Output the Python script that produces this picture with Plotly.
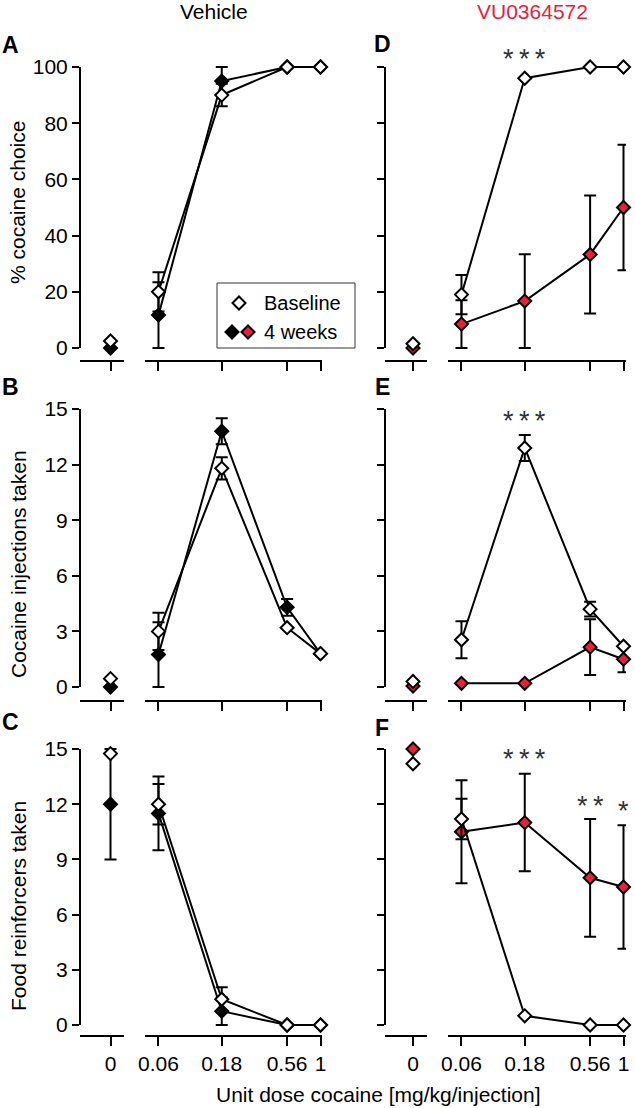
import math
import plotly.graph_objects as go

W, H = 635, 1108
RED = "#e8213b"
FONT = "Liberation Sans, Arial, Helvetica, sans-serif"

# ---------------- data ----------------
doses = [0.06, 0.18, 0.56, 1]
dose_labels = ["0.06", "0.18", "0.56", "1"]

# A: Vehicle, % cocaine choice
A_base_0, A_base_0_err = 2.5, 0
A_4w_0, A_4w_0_err = 0.0, 0
A_base = [20, 90, 100, 100]
A_base_err = [7, 4, 0, 0]
A_4w = [11.7, 95, 100, 100]
A_4w_err = [11.7, 5, 0, 0]

# B: Vehicle, cocaine injections taken
B_base_0, B_base_0_err = 0.45, 0
B_4w_0, B_4w_0_err = 0.0, 0
B_base = [3.0, 11.8, 3.2, 1.8]
B_base_err = [1.0, 0.6, 0, 0]
B_4w = [1.75, 13.8, 4.3, 1.8]
B_4w_err = [1.75, 0.7, 0.45, 0]

# C: Vehicle, food reinforcers taken
C_base_0, C_base_0_err = 14.75, 0
C_4w_0, C_4w_0_err = 12.0, 3.0
C_base = [12.0, 1.4, 0, 0]
C_base_err = [1.1, 0.65, 0, 0]
C_4w = [11.5, 0.75, 0, 0]
C_4w_err = [2.0, 0.75, 0, 0]

# D: VU0364572, % cocaine choice
D_base_0, D_base_0_err = 1.5, 0
D_4w_0, D_4w_0_err = 0.0, 0
D_base = [19, 96, 100, 100]
D_base_err = [7, 0, 0, 0]
D_4w = [8.5, 16.7, 33.3, 50]
D_4w_err = [8.5, 16.7, 21, 22.3]

# E: VU0364572, cocaine injections taken
E_base_0, E_base_0_err = 0.3, 0
E_4w_0, E_4w_0_err = 0.05, 0
E_base = [2.55, 12.9, 4.2, 2.2]
E_base_err = [1.0, 0.7, 0.4, 0]
E_4w = [0.2, 0.2, 2.15, 1.5]
E_4w_err = [0, 0, 1.5, 0.7]

# F: VU0364572, food reinforcers taken
F_base_0, F_base_0_err = 14.2, 0
F_4w_0, F_4w_0_err = 15.0, 0
F_base = [11.2, 0.5, 0, 0]
F_base_err = [1.1, 0, 0, 0]
F_4w = [10.5, 11.0, 8.0, 7.5]
F_4w_err = [2.8, 2.65, 3.2, 3.35]

# significance stars: (dose, y value, number of stars)
D_stars = [(0.18, 102.8, 3), (0.56, 106.4, 2), (1, 106.4, 1)]
E_stars = [(0.18, 14.35, 3)]
F_stars = [(0.18, 14.46, 3), (0.56, 11.9, 2), (1, 11.63, 1)]

row_titles = ["% cocaine choice", "Cocaine injections taken", "Food reinforcers taken"]
row_ticks = [[0, 20, 40, 60, 80, 100], [0, 3, 6, 9, 12, 15], [0, 3, 6, 9, 12, 15]]
row_vmax = [100, 15, 15]

panels = [
    dict(letter="A", row=0, col=0, fill="black",
         b0=A_base_0, b0e=A_base_0_err, w0=A_4w_0, w0e=A_4w_0_err,
         b=A_base, be=A_base_err, w=A_4w, we=A_4w_err, stars=[]),
    dict(letter="B", row=1, col=0, fill="black",
         b0=B_base_0, b0e=B_base_0_err, w0=B_4w_0, w0e=B_4w_0_err,
         b=B_base, be=B_base_err, w=B_4w, we=B_4w_err, stars=[]),
    dict(letter="C", row=2, col=0, fill="black",
         b0=C_base_0, b0e=C_base_0_err, w0=C_4w_0, w0e=C_4w_0_err,
         b=C_base, be=C_base_err, w=C_4w, we=C_4w_err, stars=[]),
    dict(letter="D", row=0, col=1, fill=RED,
         b0=D_base_0, b0e=D_base_0_err, w0=D_4w_0, w0e=D_4w_0_err,
         b=D_base, be=D_base_err, w=D_4w, we=D_4w_err, stars=D_stars),
    dict(letter="E", row=1, col=1, fill=RED,
         b0=E_base_0, b0e=E_base_0_err, w0=E_4w_0, w0e=E_4w_0_err,
         b=E_base, be=E_base_err, w=E_4w, we=E_4w_err, stars=E_stars),
    dict(letter="F", row=2, col=1, fill=RED,
         b0=F_base_0, b0e=F_base_0_err, w0=F_4w_0, w0e=F_4w_0_err,
         b=F_base, be=F_base_err, w=F_4w, we=F_4w_err, stars=F_stars),
]

# ---------------- layout geometry (pixels) ----------------
row_py0 = [348, 687, 1025]      # pixel of value 0
row_pymax = [67, 409, 749]      # pixel of max tick
row_axis = [360, 700, 1035]     # x-axis line
col_zero_dom = [(80, 124), (385, 427)]
col_zero_tick = [110.5, 413]
col_main_dom = [(145, 322), (448, 626)]
col_one_px = [320.5, 623.5]
PX_PER_DECADE = 132.6
letter_pos = {"A": (10, 45), "B": (10, 387), "C": (10, 722),
              "D": (383, 44), "E": (383, 387), "F": (382, 728)}
ytitle_py = [203, 564, 906]


def fx(px):
    return px / W


def fy(py):
    return 1 - py / H


def name(prefix, i):
    return prefix if i == 1 else f"{prefix}{i}"


def errs(a):
    return [e if e else None for e in a]


fig = go.Figure()
layout = dict(width=W, height=H, margin=dict(l=0, r=0, t=0, b=0, pad=0, autoexpand=False),
              paper_bgcolor="white", plot_bgcolor="rgba(0,0,0,0)", showlegend=False,
              font=dict(family=FONT, size=21, color="black"))
shapes = []
annotations = []

for p, P in enumerate(panels):
    r, c = P["row"], P["col"]
    yid, xz, xm = p + 1, 2 * p + 1, 2 * p + 2
    ya, xza, xma = name("y", yid), name("x", xz), name("x", xm)
    vmax = row_vmax[r]
    u = vmax / (row_py0[r] - row_pymax[r])
    top = row_pymax[r] - 16
    ylo = -(row_axis[r] - row_py0[r]) * u
    yhi = vmax + (row_pymax[r] - top) * u

    layout[name("yaxis", yid)] = dict(
        domain=[fy(row_axis[r]), fy(top)], range=[ylo, yhi],
        anchor=xza, showline=False, automargin=False,
        ticks="outside", ticklen=7, tickwidth=2, tickcolor="black",
        tickvals=row_ticks[r], showticklabels=(c == 0),
        tickfont=dict(size=21), showgrid=False, zeroline=False)
    zd = col_zero_dom[c]
    zf = (col_zero_tick[c] - zd[0]) / (zd[1] - zd[0])
    layout[name("xaxis", xz)] = dict(
        domain=[fx(zd[0]), fx(zd[1])], range=[-zf, 1 - zf],
        anchor=ya, showline=True, linewidth=2, linecolor="black", automargin=False,
        ticks="outside", ticklen=9, tickwidth=2, tickcolor="black",
        tickvals=[0], ticktext=["0"], showticklabels=(r == 2),
        tickfont=dict(size=21), showgrid=False, zeroline=False)
    md = col_main_dom[c]
    lo = (md[0] - col_one_px[c]) / PX_PER_DECADE
    hi = (md[1] - col_one_px[c]) / PX_PER_DECADE
    layout[name("xaxis", xm)] = dict(
        type="log", domain=[fx(md[0]), fx(md[1])], range=[lo, hi],
        anchor=ya, showline=True, linewidth=2, linecolor="black", automargin=False,
        ticks="outside", ticklen=9, tickwidth=2, tickcolor="black",
        tickvals=doses, ticktext=dose_labels, showticklabels=(r == 2),
        tickfont=dict(size=21), showgrid=False, zeroline=False)

    # y axis line spanning 0..max
    shapes.append(dict(type="line", xref="paper", yref=ya,
                       x0=fx(zd[0]), x1=fx(zd[0]), y0=0, y1=vmax,
                       line=dict(color="black", width=2)))

    eb = dict(type="data", visible=True, color="black", thickness=2, width=6)
    mk4 = dict(symbol="diamond", size=10, color=P["fill"], line=dict(color="black", width=2))
    mkb = dict(symbol="diamond", size=10, color="white", line=dict(color="black", width=2))
    # 4 weeks
    fig.add_trace(go.Scatter(x=[0], y=[P["w0"]], mode="markers", marker=mk4,
                             error_y=dict(array=errs([P["w0e"]]), **eb),
                             xaxis=xza, yaxis=ya, cliponaxis=False))
    fig.add_trace(go.Scatter(x=doses, y=P["w"], mode="lines+markers", marker=mk4,
                             line=dict(color="black", width=2),
                             error_y=dict(array=errs(P["we"]), **eb),
                             xaxis=xma, yaxis=ya, cliponaxis=False))
    # baseline
    fig.add_trace(go.Scatter(x=[0], y=[P["b0"]], mode="markers", marker=mkb,
                             error_y=dict(array=errs([P["b0e"]]), **eb),
                             xaxis=xza, yaxis=ya, cliponaxis=False))
    fig.add_trace(go.Scatter(x=doses, y=P["b"], mode="lines+markers", marker=mkb,
                             line=dict(color="black", width=2),
                             error_y=dict(array=errs(P["be"]), **eb),
                             xaxis=xma, yaxis=ya, cliponaxis=False))

    for d, yv, n in P["stars"]:
        annotations.append(dict(x=math.log10(d), y=yv, xref=xma, yref=ya,
                                text="\u2009".join(["*"] * n),
                                showarrow=False, font=dict(size=27, color="#333"),
                                xanchor="center", yanchor="middle"))

    lx, ly = letter_pos[P["letter"]]
    annotations.append(dict(x=fx(lx), y=fy(ly), xref="paper", yref="paper",
                            text=f"<b>{P['letter']}</b>", showarrow=False,
                            font=dict(size=23), xanchor="center", yanchor="middle"))

# y-axis titles
for r in range(3):
    annotations.append(dict(x=fx(18), y=fy(ytitle_py[r]), xref="paper", yref="paper",
                            text=row_titles[r], textangle=-90, showarrow=False,
                            font=dict(size=21), xanchor="center", yanchor="middle"))

# column titles and x title
annotations.append(dict(x=fx(214), y=fy(11), xref="paper", yref="paper", text="Vehicle",
                        showarrow=False, font=dict(size=21), xanchor="center", yanchor="middle"))
annotations.append(dict(x=fx(532), y=fy(11), xref="paper", yref="paper", text="VU0364572",
                        showarrow=False, font=dict(size=21, color=RED),
                        xanchor="center", yanchor="middle"))
annotations.append(dict(x=fx(378), y=fy(1094), xref="paper", yref="paper",
                        text="Unit dose cocaine [mg/kg/injection]",
                        showarrow=False, font=dict(size=21), xanchor="center", yanchor="middle"))

# ---------------- legend (custom, in pixel overlay axes) ----------------
layout["xaxis13"] = dict(domain=[0, 1], range=[0, W], visible=False, anchor="y7",
                         fixedrange=True, automargin=False)
layout["yaxis7"] = dict(domain=[0, 1], range=[H, 0], visible=False, anchor="x13",
                        fixedrange=True, automargin=False)
legend_box = (217, 283, 355, 348)
legend_items = [("Baseline", [(239, 303, "white")]),
                ("4 weeks", [(232, 332, "black"), (248, 332, RED)])]
shapes.append(dict(type="rect", xref="paper", yref="paper", layer="below",
                   x0=fx(legend_box[0]), x1=fx(legend_box[2]),
                   y0=fy(legend_box[1]), y1=fy(legend_box[3]),
                   line=dict(color="#333", width=1), fillcolor="white"))
for label, syms in legend_items:
    fig.add_trace(go.Scatter(x=[s[0] for s in syms], y=[s[1] for s in syms], mode="markers",
                             marker=dict(symbol="diamond", size=10,
                                         color=[s[2] for s in syms],
                                         line=dict(color="black", width=2)),
                             xaxis="x13", yaxis="y7", cliponaxis=False, hoverinfo="skip"))
    annotations.append(dict(x=fx(262), y=fy(syms[0][1]), xref="paper", yref="paper",
                            text=label, showarrow=False, font=dict(size=20),
                            xanchor="left", yanchor="middle"))

layout["shapes"] = shapes
layout["annotations"] = annotations
fig.update_layout(**layout)
fig.write_html("out.html", config={"displayModeBar": False},
               post_script="document.body.style.margin='0';")
